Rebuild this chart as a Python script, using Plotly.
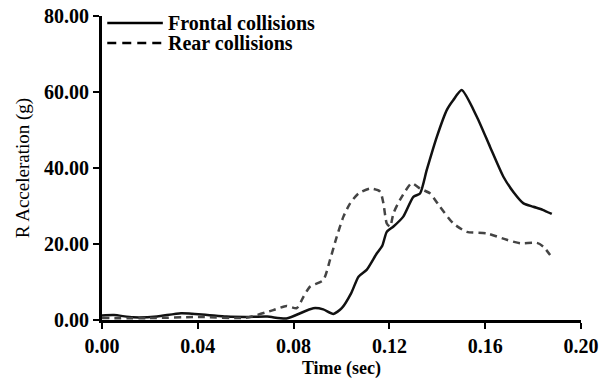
import plotly.graph_objects as go

# Frontal collisions (solid)
frontal_t = [0.000, 0.005, 0.013, 0.023, 0.033, 0.044, 0.052, 0.060, 0.069, 0.077, 0.0882, 0.0924, 0.0966, 0.1001,
             0.1040, 0.1071, 0.1105, 0.1147, 0.1170, 0.1189, 0.1217, 0.1258, 0.1300, 0.1328, 0.1356, 0.1398,
             0.1440, 0.1467, 0.1502, 0.1565, 0.1620, 0.1676, 0.1720, 0.1760, 0.1801, 0.1840, 0.1878]
frontal_g = [1.2, 1.3, 0.7, 0.9, 1.8, 1.3, 0.9, 0.8, 0.9, 0.4, 3.1, 2.8, 1.6, 3.1,
             7.0, 11.4, 13.2, 17.5, 19.5, 23.2, 24.6, 27.2, 32.4, 33.3, 39.5, 48.2,
             55.3, 57.9, 60.5, 53.5, 45.6, 37.7, 33.5, 30.7, 29.8, 29.0, 27.9]

# Rear collisions (dashed)
rear_t = [0.000, 0.020, 0.040, 0.060, 0.0715, 0.0770, 0.0813, 0.0841, 0.0869, 0.0924, 0.0952, 0.0980, 0.1008,
          0.1036, 0.1071, 0.1119, 0.1161, 0.1175, 0.1189, 0.1203, 0.1217, 0.1244, 0.1293, 0.1328, 0.1370,
          0.1411, 0.1467, 0.1523, 0.1607, 0.1690, 0.1746, 0.1816, 0.1843, 0.1871]
rear_g = [0.5, 0.5, 0.8, 0.6, 2.6, 3.7, 3.1, 6.1, 8.8, 10.5, 15.8, 21.9, 27.2,
          30.7, 33.3, 34.6, 33.8, 30.7, 25.4, 24.6, 28.1, 31.6, 36.0, 34.6, 33.3,
          29.8, 25.4, 23.2, 22.8, 21.1, 20.2, 20.3, 19.3, 17.1]

series_names = ["Frontal collisions", "Rear collisions"]
x_ticks = [0.00, 0.04, 0.08, 0.12, 0.16, 0.20]
y_ticks = [0, 20, 40, 60, 80]

font_family = "Liberation Serif"
styles = [dict(color="#111111", width=2.5, dash="solid"),
          dict(color="#444444", width=2.5, dash="7px,5px")]

fig = go.Figure()
for name, xs, ys, st in zip(series_names, [frontal_t, rear_t], [frontal_g, rear_g], styles):
    fig.add_trace(go.Scatter(x=xs, y=ys, mode="lines", name=name, showlegend=False,
                             line=dict(color=st["color"], width=st["width"], dash=st["dash"],
                                       shape="spline", smoothing=0.6)))

# Manual legend (line samples + labels) in the top-left corner of the plot area
legend_y = [0.977, 0.911]
for name, st, ly in zip(series_names, styles, legend_y):
    fig.add_shape(type="line", xref="paper", yref="paper", x0=0.011, x1=0.127, y0=ly, y1=ly,
                  line=dict(color="black", width=2.5, dash=("solid" if st["dash"] == "solid" else "9px,6px")))
    fig.add_annotation(xref="paper", yref="paper", x=0.133, y=ly, xanchor="left", yanchor="middle",
                       text=name, showarrow=False,
                       font=dict(family=font_family, size=20, color="black", weight="bold"))

fig.update_layout(
    width=602, height=389,
    margin=dict(l=102, r=21, t=16, b=69),
    paper_bgcolor="white", plot_bgcolor="white",
    font=dict(family=font_family, color="black"),
    showlegend=False,
)
fig.update_xaxes(
    range=[0, 0.2], tickvals=x_ticks, ticktext=[f"{v:.2f}" for v in x_ticks],
    showline=True, linecolor="black", linewidth=3, ticks="outside", ticklen=6, tickwidth=2,
    tickcolor="black", showgrid=False, zeroline=False, automargin=False,
    tickfont=dict(family=font_family, size=20, color="black", weight="bold"),
    title=dict(text="Time (sec)", font=dict(family=font_family, size=18, color="black", weight=600), standoff=6),
)
fig.update_yaxes(
    range=[0, 80], tickvals=y_ticks, ticktext=[f"{v:.2f}" for v in y_ticks],
    showline=True, linecolor="black", linewidth=3, ticks="outside", ticklen=6, tickwidth=2,
    tickcolor="black", showgrid=False, zeroline=False, automargin=False,
    tickfont=dict(family=font_family, size=20, color="black", weight="bold"),
    title=dict(text="R Acceleration (g)", font=dict(family=font_family, size=19, color="black"), standoff=10),
)

fig.write_html("out.html")
